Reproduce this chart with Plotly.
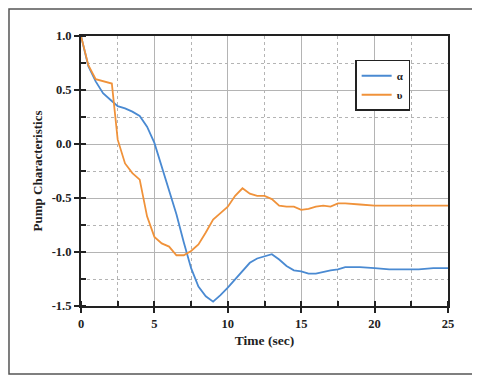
import plotly.graph_objects as go

time_alpha = [0, 0.5, 1, 1.5, 2, 2.5, 3, 3.5, 4, 4.5, 5, 5.5, 6, 6.5, 7, 7.5, 8, 8.5, 9, 9.5, 10,
              10.5, 11, 11.5, 12, 12.5, 13, 13.5, 14, 14.5, 15, 15.5, 16, 17, 17.5, 18, 19, 20,
              21, 22, 23, 24, 25]
alpha = [1.0, 0.72, 0.58, 0.47, 0.41, 0.35, 0.33, 0.30, 0.26, 0.16, 0.01, -0.21, -0.42, -0.65,
         -0.91, -1.15, -1.32, -1.41, -1.46, -1.40, -1.33, -1.25, -1.17, -1.10, -1.06, -1.04,
         -1.02, -1.07, -1.13, -1.17, -1.18, -1.20, -1.20, -1.17, -1.16, -1.14, -1.14, -1.15,
         -1.16, -1.16, -1.16, -1.15, -1.15]

time_upsilon = [0, 0.5, 1, 1.5, 2, 2.1, 2.5, 3, 3.5, 4, 4.5, 5, 5.5, 6, 6.5, 7, 7.5, 8, 8.5, 9,
                9.5, 10, 10.5, 11, 11.5, 12, 12.5, 13, 13.5, 14, 14.5, 15, 15.5, 16, 16.5, 17,
                17.5, 18, 19, 20, 21, 22, 23, 25]
upsilon = [1.0, 0.73, 0.60, 0.58, 0.56, 0.56, 0.04, -0.18, -0.27, -0.33, -0.67, -0.86, -0.92,
           -0.95, -1.03, -1.03, -0.99, -0.93, -0.82, -0.70, -0.64, -0.58, -0.48, -0.41, -0.46,
           -0.48, -0.48, -0.51, -0.57, -0.58, -0.58, -0.61, -0.60, -0.58, -0.57, -0.58, -0.55,
           -0.55, -0.56, -0.57, -0.57, -0.57, -0.57, -0.57]

y_tick_vals = [1.0, 0.5, 0.0, -0.5, -1.0, -1.5]
y_tick_text = ["1.0", "0.5", "0.0", "-0.5", "-1.0", "-1.5"]
x_tick_vals = [0, 5, 10, 15, 20, 25]
x_tick_text = ["0", "5", "10", "15", "20", "25"]

FONT = "Liberation Serif"

fig = go.Figure()
fig.add_trace(go.Scatter(x=time_alpha, y=alpha, mode="lines", name="α",
                         line=dict(color="#4a8ad2", width=1.8)))
fig.add_trace(go.Scatter(x=time_upsilon, y=upsilon, mode="lines", name="υ",
                         line=dict(color="#f0923a", width=1.8)))

axis_common = dict(
    showline=True, linecolor="#222", linewidth=2, mirror=True,
    showgrid=True, gridcolor="#b4b4b4", gridwidth=1.2,
    ticks="outside", ticklen=5, tickwidth=1.5, tickcolor="#222",
    zeroline=False,
    tickfont=dict(family=FONT, size=12.5, color="#222", weight="bold"),
)

fig.update_xaxes(
    range=[0, 25], tickmode="array", tickvals=x_tick_vals, ticktext=x_tick_text,
    minor=dict(dtick=2.5, tick0=0, showgrid=True, griddash="dot", gridcolor="#b4b4b4", gridwidth=1.2,
               ticks="inside", ticklen=5, tickcolor="#222"),
    title=dict(text="Time (sec)", font=dict(family=FONT, size=13.5, color="#222", weight="bold"),
               standoff=6),
    **axis_common,
)
fig.update_yaxes(
    range=[-1.5, 1.0], tickmode="array", tickvals=y_tick_vals, ticktext=y_tick_text,
    minor=dict(dtick=0.25, tick0=0, showgrid=True, griddash="dot", gridcolor="#b4b4b4", gridwidth=1.2,
               ticks="inside", ticklen=5, tickcolor="#222"),
    title=dict(text="Pump Characteristics", font=dict(family=FONT, size=13, color="#222", weight="bold"),
               standoff=6),
    **axis_common,
)

# the page body adds an 8px offset; figure is sized to fit inside the 480x380 window
fig.update_layout(
    width=472, height=372,
    margin=dict(l=73, r=32, t=28, b=74),
    paper_bgcolor="white", plot_bgcolor="white",
    showlegend=True,
    legend=dict(x=0.747, y=0.912, xanchor="left", yanchor="top",
                bgcolor="white", bordercolor="#222", borderwidth=1.5,
                font=dict(family=FONT, size=11, color="#222", weight="bold"),
                tracegroupgap=0, itemwidth=30),
    shapes=[dict(type="rect", xref="paper", yref="paper",
                 x0=-0.1962, x1=1.0763, y0=-0.2519, y1=1.1,
                 line=dict(color="#555", width=1.5), fillcolor="rgba(0,0,0,0)")],
)

fig.write_html("out.html")
